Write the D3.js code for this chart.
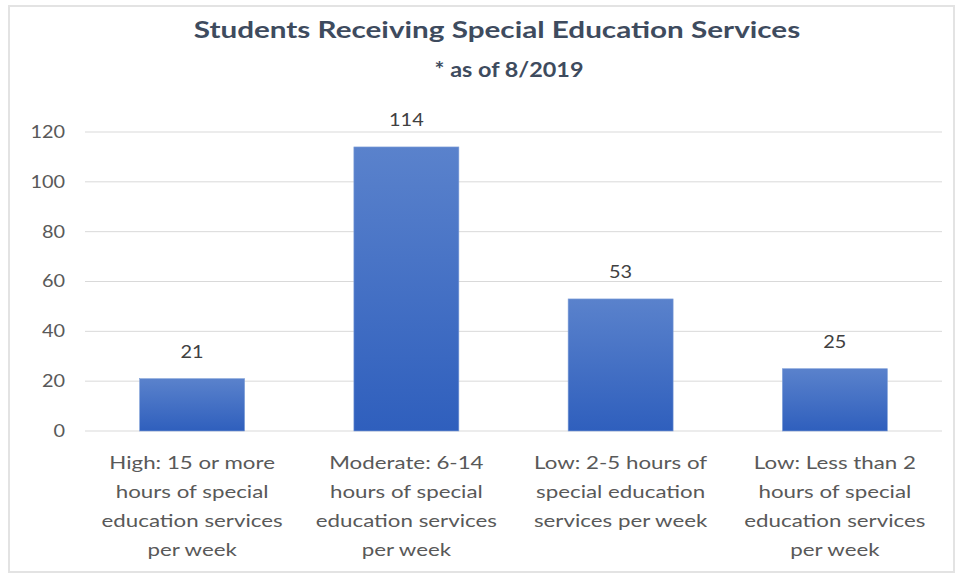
<!DOCTYPE html>
<html>
<head>
<meta charset="utf-8">
<script src="https://cdn.jsdelivr.net/npm/d3@7"></script>
<style>
  body { margin: 0; background: #fff; }
  text { font-family: Lato, "Open Sans", sans-serif; }
</style>
</head>
<body>
<div class="chart"></div>
<script>
// Data
var categories = [
  ["High: 15 or more", "hours of special", "education services", "per week"],
  ["Moderate: 6-14", "hours of special", "education services", "per week"],
  ["Low: 2-5 hours of", "special education", "services per week"],
  ["Low: Less than 2", "hours of special", "education services", "per week"]
];
var counts = [21, 114, 53, 25];
var yTicks = [0, 20, 40, 60, 80, 100, 120];

var svgWidth = 958;
var svgHeight = 577;

var margin = { top: 132, right: 16, bottom: 146, left: 85 };
var width = svgWidth - margin.left - margin.right;
var height = svgHeight - margin.top - margin.bottom;

// the source picture is a bit stretched sideways, so text is widened too
var stretch = 1.17;

var svg = d3.select(".chart")
  .append("svg")
  .attr("width", svgWidth)
  .attr("height", svgHeight);

// gradient for the bars
var grad = svg.append("defs").append("linearGradient")
  .attr("id", "barGrad")
  .attr("x1", 0).attr("y1", 0).attr("x2", 0).attr("y2", 1);
grad.append("stop").attr("offset", "0%").attr("stop-color", "#5a82cc");
grad.append("stop").attr("offset", "100%").attr("stop-color", "#2f5fbd");

// chart border
svg.append("rect")
  .attr("x", 9).attr("y", 6)
  .attr("width", 945).attr("height", 566)
  .attr("fill", "none")
  .attr("stroke", "#e3e3e3")
  .attr("stroke-width", 2);

var chartGroup = svg.append("g")
  .attr("transform", `translate(${margin.left}, ${margin.top})`);

var xScale = d3.scaleBand()
  .domain(d3.range(categories.length))
  .range([0, width])
  .paddingInner(0.51)
  .paddingOuter(0.255);

var yScale = d3.scaleLinear()
  .domain([0, 120])
  .range([height, 0]);

// gridlines
chartGroup.selectAll(".grid")
  .data(yTicks)
  .enter()
  .append("line")
  .attr("x1", 0)
  .attr("x2", width)
  .attr("y1", d => yScale(d))
  .attr("y2", d => yScale(d))
  .attr("stroke", "#d9d9d9")
  .attr("stroke-width", 1);

// y axis
var leftAxis = d3.axisLeft(yScale).tickValues(yTicks).tickSize(0).tickPadding(20);
var yAxis = chartGroup.append("g").call(leftAxis);
yAxis.select(".domain").remove();
yAxis.selectAll("text")
  .attr("x", 0)
  .attr("transform", `translate(-20,0) scale(${stretch},1)`)
  .attr("fill", "#595959")
  .style("font-size", "17px");

// bars
chartGroup.selectAll(".bar")
  .data(counts)
  .enter()
  .append("rect")
  .attr("x", (d, i) => xScale(i))
  .attr("y", d => yScale(d))
  .attr("width", xScale.bandwidth())
  .attr("height", d => height - yScale(d))
  .attr("fill", "url(#barGrad)")
  .attr("stroke", "#7f9fd8")
  .attr("stroke-width", 0.6);

// value labels
chartGroup.selectAll(".val")
  .data(counts)
  .enter()
  .append("text")
  .attr("transform", (d, i) => `translate(${xScale(i) + xScale.bandwidth() / 2}, ${yScale(d) - 21}) scale(${stretch},1)`)
  .attr("text-anchor", "middle")
  .attr("fill", "#404040")
  .style("font-size", "17px")
  .text(d => d);

// category labels
var catGroup = chartGroup.selectAll(".cat")
  .data(categories)
  .enter()
  .append("text")
  .attr("text-anchor", "middle")
  .attr("fill", "#595959")
  .style("font-size", "18px")
  .attr("transform", (d, i) => `translate(${xScale(i) + xScale.bandwidth() / 2}, ${height + 38}) scale(1.24,1)`);

catGroup.selectAll("tspan")
  .data(d => d)
  .enter()
  .append("tspan")
  .attr("x", 0)
  .attr("y", (d, j) => j * 29)
  .text(d => d);

// title
svg.append("text")
  .attr("transform", "translate(497,38) scale(1.29,1)")
  .attr("text-anchor", "middle")
  .attr("fill", "#3e4b5e")
  .style("font-size", "23px")
  .style("font-weight", "bold")
  .text("Students Receiving Special Education Services");

svg.append("text")
  .attr("transform", `translate(509,77) scale(${stretch},1)`)
  .attr("text-anchor", "middle")
  .attr("fill", "#3e4b5e")
  .style("font-size", "20px")
  .style("font-weight", "bold")
  .text("* as of 8/2019");
</script>
</body>
</html>
